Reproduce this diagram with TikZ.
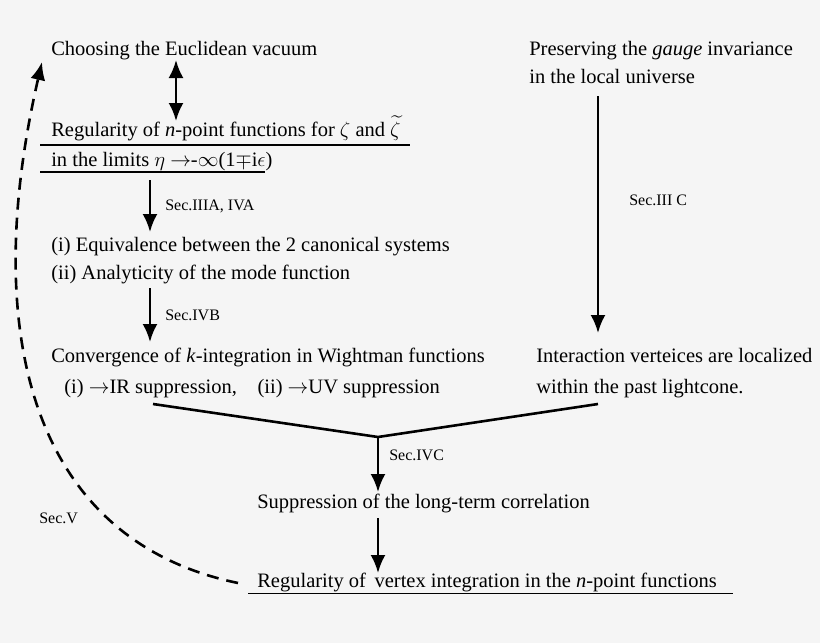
\documentclass[tikz,border=0pt]{standalone}
\usepackage{fontspec}
\setmainfont{Liberation Serif}
\usepackage{amsmath,amssymb}
\usetikzlibrary{positioning}
\usetikzlibrary{arrows.meta}

\begin{document}
\begin{tikzpicture}[x=1pt, y=-1pt, line width=2.6pt,
    txt/.style={anchor=base west, inner sep=0pt, font=\fontsize{20.5}{24}\selectfont},
    lbl/.style={anchor=west, inner sep=0pt, font=\fontsize{16}{19}\selectfont},
    arr/.style={-{Latex[length=18pt, width=15pt]}}]

% Background
\fill[black!4] (0,0) rectangle (820,643);
\useasboundingbox (0,0) rectangle (820,643);

% Left column
\node[txt] (vac) at (50,55) {Choosing the Euclidean vacuum};
\node[txt] (reg1) at (50,136) {Regularity of \textit{n}-point functions for $\zeta$ and $\widetilde{\zeta}$};
\node[txt] (reg2) at (50,166) {in the limits $\eta$ $\rightarrow$-$\infty$(1$\mp$i$\epsilon$)};
\node[txt] (eq1) at (50,251) {(i) Equivalence between the 2 canonical systems};
\node[txt] (eq2) at (50,279) {(ii) Analyticity of the mode function};
\node[txt] (conv1) at (50,362) {Convergence of \textit{k}-integration in Wightman functions};
\node[txt] (conv2) at (63,393) {(i) $\rightarrow$IR suppression,\quad (ii) $\rightarrow$UV suppression};

% Right column
\node[txt] (gauge1) at (528,55) {Preserving the \textit{gauge} invariance};
\node[txt] (gauge2) at (528,83) {in the local universe};
\node[txt] (int1) at (535,362) {Interaction verteices are localized};
\node[txt] (int2) at (535,393) {within the past lightcone.};

% Bottom
\node[txt] (supp) at (256,508) {Suppression of the long-term correlation};
\node[txt] (final) at (256,587) {Regularity of\, vertex integration in the \textit{n}-point functions};

% Underlines
\draw[line width=1.4pt] (40,145) coordinate (u1a) -- (410,145) coordinate (u1b);
\draw[line width=1.4pt] (40,172) coordinate (u2a) -- (265,172) coordinate (u2b);
\draw[line width=0.7pt] (248,593) coordinate (u3a) -- (733,593) coordinate (u3b);

% Arrows
\coordinate (d1a) at (176,60);   \coordinate (d1b) at (176,121);
\draw[{Latex[length=18pt, width=15pt]}-{Latex[length=18pt, width=15pt]}] (d1a) -- (d1b);
\coordinate (a1a) at (150,180);  \coordinate (a1b) at (150,232);
\draw[arr] (a1a) -- (a1b) node[lbl, midway, right=14pt] {Sec.IIIA, IVA};
\coordinate (a2a) at (150,288);  \coordinate (a2b) at (150,342);
\draw[arr] (a2a) -- (a2b) node[lbl, midway, right=14pt] {Sec.IVB};
\coordinate (a3a) at (598,96);   \coordinate (a3b) at (598,333);
\draw[arr] (a3a) -- (a3b) node[lbl, pos=0.44, right=30pt] {Sec.III C};

% Merge
\coordinate (ml) at (153,404);
\coordinate (mr) at (598,404);
\coordinate (mj) at (378,437);
\draw (ml) -- (mj) -- (mr);
\coordinate (a4b) at (378,492);
\draw[arr] (mj) -- (a4b) node[lbl, pos=0.33, right=10pt] {Sec.IVC};
\coordinate (a5a) at (378,518);  \coordinate (a5b) at (378,573);
\draw[arr] (a5a) -- (a5b);

% Feedback
\coordinate (fb) at (238,583);
\coordinate (fe) at (42,62);
\draw[arr, dash pattern=on 12pt off 8pt] (fb) .. controls (30,540) and (-20,330) .. (fe);
\node[lbl] (secv) at (38,518) {Sec.V};

\end{tikzpicture}
\end{document}
